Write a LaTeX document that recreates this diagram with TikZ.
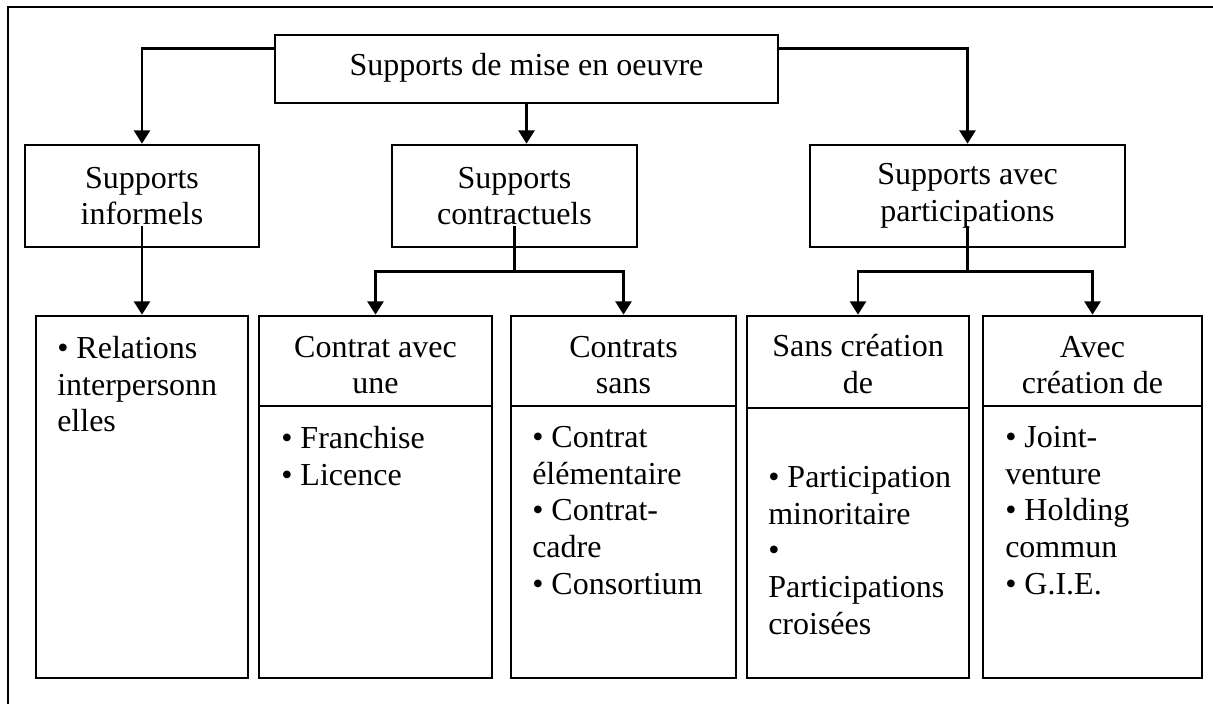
\documentclass[tikz,border=0pt]{standalone}
\usepackage{fontspec}
\setmainfont{Liberation Serif}
\usetikzlibrary{fit,arrows.meta}
\begin{document}
\begin{tikzpicture}[x=0.75pt,y=-0.75pt,
  txtfont/.style={font=\fontsize{24}{27.5}\selectfont},
  box/.style={draw,line width=2pt,inner sep=0pt},
  label/.style={inner sep=0pt,align=center,txtfont},
  body/.style={anchor=north west,inner sep=0pt,align=left,txtfont},
  conn/.style={line width=2pt},
  arr/.style={line width=2pt,-{Triangle[width=12pt,length=10pt]}}]
\useasboundingbox (0,0) rectangle (1213,704);
% outer frame
\draw[line width=2.2pt] (1213,7) -- (8,7) -- (8,704);
% boxes
\node[box, fit={(275,35) (778,103)}] (top) {};
\node[box, fit={(25,145) (259,247)}] (inf) {};
\node[box, fit={(392,145) (637,247)}] (contr) {};
\node[box, fit={(810,145) (1125,247)}] (part) {};
\node[box, fit={(36,316) (248,678)}] (b1) {};
\node[box, fit={(259,316) (492,406)}] (h2) {};
\node[box, fit={(259,406) (492,678)}] (d2) {};
\node[box, fit={(511,316) (736,406)}] (h3) {};
\node[box, fit={(511,406) (736,678)}] (d3) {};
\node[box, fit={(747,316) (969,408)}] (h4) {};
\node[box, fit={(747,408) (969,678)}] (d4) {};
\node[box, fit={(983,316) (1202,406)}] (h5) {};
\node[box, fit={(983,406) (1202,678)}] (d5) {};
% header texts
\node[label] (ltop) at ([yshift=1pt]top.center) {Supports de mise en oeuvre};
\node[label] (linf) at (inf.center) {Supports\\informels};
\node[label] (lcontr) at (contr.center) {Supports\\contractuels};
\node[label] (lpart) at (part.center) {Supports avec\\participations};
\node[label] (lh2) at ([yshift=-3pt]h2.center) {Contrat avec\\une};
\node[label] (lh3) at ([yshift=-3pt]h3.center) {Contrats\\sans};
\node[label] (lh4) at ([yshift=-1.5pt]h4.center) {Sans création\\de};
\node[label] (lh5) at ([yshift=-3pt]h5.center) {Avec\\création de};
% body texts
\node[body] (t1) at (57,336) {• Relations\\interpersonn\\elles};
\node[body] (t2) at (281,426) {• Franchise\\• Licence};
\node[body] (t3) at (532,426) {• Contrat\\élémentaire\\• Contrat-\\cadre\\• Consortium};
\node[body] (t4) at (768,466) {• Participation\\minoritaire\\•\\Participations\\croisées};
\node[body] (t5) at (1005,426) {• Joint-\\venture\\• Holding\\commun\\• G.I.E.};
% connectors
\draw[arr] ([yshift=-11.25pt]top.north west) -| (inf.north);
\draw[arr] ([yshift=-11.25pt]top.north east) -| (part.north);
\draw[arr] (top.south) -- (top.south |- contr.north);
\draw[arr] ([yshift=16.5pt]inf.south) -- (b1.north);
\coordinate (cb) at ([yshift=-17.25pt]contr.south);
\draw[conn] ([yshift=16.5pt]contr.south) -- (cb);
\draw[arr] (cb) -| (h2.north);
\draw[arr] (cb) -| (h3.north);
\coordinate (pb) at ([yshift=-17.25pt]part.south);
\draw[conn] ([yshift=16.5pt]part.south) -- (pb);
\draw[arr] (pb) -| (h4.north);
\draw[arr] (pb) -| (h5.north);
\end{tikzpicture}
\end{document}
